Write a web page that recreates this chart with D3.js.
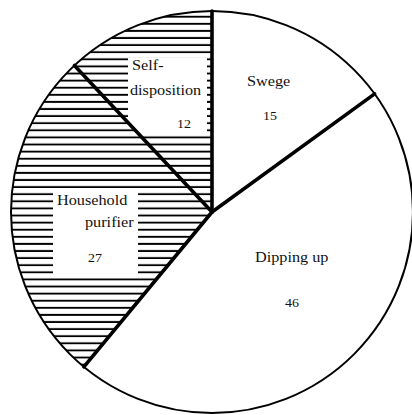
<!DOCTYPE html>
<html>
<head>
<meta charset="utf-8">
<script src="https://cdn.jsdelivr.net/npm/d3@7/dist/d3.min.js"></script>
<style>
  html, body { margin: 0; padding: 0; background: #fff; }
  svg { display: block; }
</style>
</head>
<body>
<script>
// Household waste-water disposal shares (%)
const categories = ["Swege", "Dipping up", "Household purifier", "Self-disposition"];
const values = [15, 46, 27, 12];
const labelLines = [["Swege"], ["Dipping up"], ["Household", "purifier"], ["Self-", "disposition"]];
const hatched = [false, false, true, true];

const W = 412, H = 415;
const cx = 212, cy = 212, R = 201;
const serif = "'Liberation Serif'";

// Text placement relative to the pie centre (pixels)
const labelLayout = [
  { lines: [[35, -126]], value: [51, -92] },
  { lines: [[43, 50]], value: [73, 95] },
  { lines: [[-155, -7], [-127, 15]], value: [-124, 50], box: [-159, -24, 85, 90] },
  { lines: [[-80, -142], [-82, -117]], value: [-35, -84], box: [-84, -154, 79, 76] }
];

const svg = d3.select("body").append("svg")
  .attr("width", W).attr("height", H);

const defs = svg.append("defs");
const pat = defs.append("pattern")
  .attr("id", "hatch")
  .attr("patternUnits", "userSpaceOnUse")
  .attr("width", 12).attr("height", 7.1);
pat.append("line")
  .attr("x1", 0).attr("x2", 12)
  .attr("y1", 3.5).attr("y2", 3.5)
  .attr("stroke", "#000").attr("stroke-width", 1.9);

const pie = d3.pie().sort(null).value(d => d.value);
const arcs = pie(categories.map((c, i) => ({ name: c, value: values[i], i })));
const arc = d3.arc().innerRadius(0).outerRadius(R);

const g = svg.append("g").attr("transform", `translate(${cx},${cy})`);

// sector fills
arcs.forEach((a, i) => {
  defs.append("clipPath").attr("id", "clip" + i)
    .append("path").attr("d", arc(a));
});

g.selectAll("path.sector")
  .data(arcs)
  .join("path")
  .attr("class", "sector")
  .attr("d", arc)
  .attr("fill", d => hatched[d.data.i] ? "url(#hatch)" : "#fff");

// white panels behind labels inside hatched sectors
arcs.forEach((a, i) => {
  const b = labelLayout[i].box;
  if (!b) return;
  g.append("rect")
    .attr("clip-path", `url(#clip${i})`)
    .attr("x", b[0]).attr("y", b[1])
    .attr("width", b[2]).attr("height", b[3])
    .attr("fill", "#fff");
});

// radial dividers
const bounds = arcs.map(a => a.startAngle);
g.selectAll("line.divider")
  .data(bounds)
  .join("line")
  .attr("class", "divider")
  .attr("x1", 0).attr("y1", 0)
  .attr("x2", a => R * Math.sin(a))
  .attr("y2", a => -R * Math.cos(a))
  .attr("stroke", "#000")
  .attr("stroke-width", 3.6)
  .attr("stroke-linecap", "round");

// outline
g.append("circle")
  .attr("r", R)
  .attr("fill", "none")
  .attr("stroke", "#000")
  .attr("stroke-width", 2);

// labels
const sx = 1.12;
arcs.forEach((a, i) => {
  const L = labelLayout[i];
  labelLines[i].forEach((t, k) => {
    const [dx, dy] = L.lines[k];
    g.append("text")
      .attr("transform", `translate(${dx},${dy}) scale(${sx},1)`)
      .attr("font-family", serif)
      .attr("font-size", 14.5)
      .attr("fill", "#111")
      .text(t);
  });
  const [vx, vy] = L.value;
  g.append("text")
    .attr("transform", `translate(${vx},${vy}) scale(${sx},1)`)
    .attr("font-family", serif)
    .attr("font-size", 12.5)
    .attr("fill", "#111")
    .text(values[i]);
});
</script>
</body>
</html>
